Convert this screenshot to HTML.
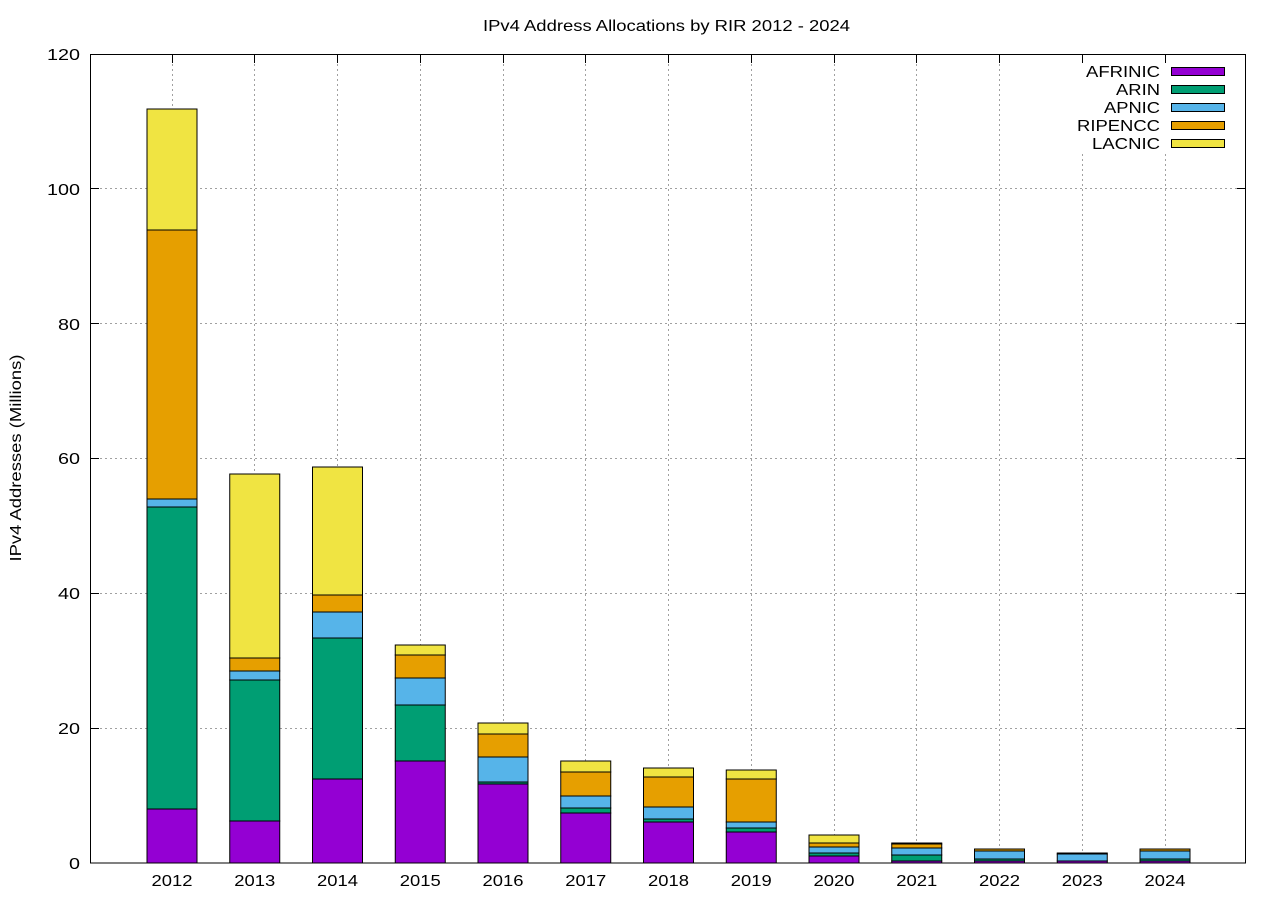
<!DOCTYPE html>
<html><head><meta charset="utf-8"><style>html,body{margin:0;padding:0;background:#fff}svg{display:block}text{font-family:"Liberation Sans",Arial,sans-serif;fill:#000}</style></head>
<body>
<svg width="1280" height="900" viewBox="0 0 1280 900" xmlns="http://www.w3.org/2000/svg">
<rect width="1280" height="900" fill="#fff"/>
<text x="666.5" y="31" font-size="16" text-anchor="middle" textLength="367" lengthAdjust="spacingAndGlyphs">IPv4 Address Allocations by RIR 2012 - 2024</text>
<g stroke="#a0a0a0" stroke-width="1" stroke-dasharray="2,3">
<line x1="90" x2="1246" y1="728.5" y2="728.5"/><line x1="90" x2="1246" y1="593.5" y2="593.5"/><line x1="90" x2="1246" y1="458.5" y2="458.5"/><line x1="90" x2="1246" y1="323.5" y2="323.5"/><line x1="90" x2="1246" y1="188.5" y2="188.5"/>
<line y1="54" y2="863" x1="172.5" x2="172.5"/><line y1="54" y2="863" x1="254.5" x2="254.5"/><line y1="54" y2="863" x1="337.5" x2="337.5"/><line y1="54" y2="863" x1="420.5" x2="420.5"/><line y1="54" y2="863" x1="503.5" x2="503.5"/><line y1="54" y2="863" x1="585.5" x2="585.5"/><line y1="54" y2="863" x1="668.5" x2="668.5"/><line y1="54" y2="863" x1="751.5" x2="751.5"/><line y1="54" y2="863" x1="834.5" x2="834.5"/><line y1="54" y2="863" x1="916.5" x2="916.5"/><line y1="54" y2="863" x1="999.5" x2="999.5"/><line y1="54" y2="863" x1="1082.5" x2="1082.5"/><line y1="54" y2="863" x1="1165.5" x2="1165.5"/>
</g>
<rect x="1060" y="56" width="184" height="98" fill="#fff"/>
<g stroke="#000" stroke-width="1">
<rect x="147" y="809" width="50" height="54" fill="#9400d3"/><rect x="147" y="507" width="50" height="302" fill="#009e73"/><rect x="147" y="499" width="50" height="8" fill="#56b4e9"/><rect x="147" y="230" width="50" height="269" fill="#e69f00"/><rect x="147" y="109" width="50" height="121" fill="#f0e442"/>
<rect x="229.75" y="821" width="50" height="42" fill="#9400d3"/><rect x="229.75" y="680" width="50" height="141" fill="#009e73"/><rect x="229.75" y="671" width="50" height="9" fill="#56b4e9"/><rect x="229.75" y="658" width="50" height="13" fill="#e69f00"/><rect x="229.75" y="474" width="50" height="184" fill="#f0e442"/>
<rect x="312.5" y="779" width="50" height="84" fill="#9400d3"/><rect x="312.5" y="638" width="50" height="141" fill="#009e73"/><rect x="312.5" y="612" width="50" height="26" fill="#56b4e9"/><rect x="312.5" y="595" width="50" height="17" fill="#e69f00"/><rect x="312.5" y="467" width="50" height="128" fill="#f0e442"/>
<rect x="395.25" y="761" width="50" height="102" fill="#9400d3"/><rect x="395.25" y="705" width="50" height="56" fill="#009e73"/><rect x="395.25" y="678" width="50" height="27" fill="#56b4e9"/><rect x="395.25" y="655" width="50" height="23" fill="#e69f00"/><rect x="395.25" y="645" width="50" height="10" fill="#f0e442"/>
<rect x="478" y="784" width="50" height="79" fill="#9400d3"/><rect x="478" y="782" width="50" height="2" fill="#009e73"/><rect x="478" y="757" width="50" height="25" fill="#56b4e9"/><rect x="478" y="734" width="50" height="23" fill="#e69f00"/><rect x="478" y="723" width="50" height="11" fill="#f0e442"/>
<rect x="560.75" y="813" width="50" height="50" fill="#9400d3"/><rect x="560.75" y="808" width="50" height="5" fill="#009e73"/><rect x="560.75" y="796" width="50" height="12" fill="#56b4e9"/><rect x="560.75" y="772" width="50" height="24" fill="#e69f00"/><rect x="560.75" y="761" width="50" height="11" fill="#f0e442"/>
<rect x="643.5" y="822" width="50" height="41" fill="#9400d3"/><rect x="643.5" y="819" width="50" height="3" fill="#009e73"/><rect x="643.5" y="807" width="50" height="12" fill="#56b4e9"/><rect x="643.5" y="777" width="50" height="30" fill="#e69f00"/><rect x="643.5" y="768" width="50" height="9" fill="#f0e442"/>
<rect x="726.25" y="832" width="50" height="31" fill="#9400d3"/><rect x="726.25" y="828" width="50" height="4" fill="#009e73"/><rect x="726.25" y="822" width="50" height="6" fill="#56b4e9"/><rect x="726.25" y="779" width="50" height="43" fill="#e69f00"/><rect x="726.25" y="770" width="50" height="9" fill="#f0e442"/>
<rect x="809" y="856" width="50" height="7" fill="#9400d3"/><rect x="809" y="853" width="50" height="3" fill="#009e73"/><rect x="809" y="847" width="50" height="6" fill="#56b4e9"/><rect x="809" y="843" width="50" height="4" fill="#e69f00"/><rect x="809" y="835" width="50" height="8" fill="#f0e442"/>
<rect x="891.75" y="861" width="50" height="2" fill="#9400d3"/><rect x="891.75" y="855" width="50" height="6" fill="#009e73"/><rect x="891.75" y="848" width="50" height="7" fill="#56b4e9"/><rect x="891.75" y="844" width="50" height="4" fill="#e69f00"/><rect x="891.75" y="843" width="50" height="1" fill="#f0e442"/>
<rect x="974.5" y="861" width="50" height="2" fill="#9400d3"/><rect x="974.5" y="859" width="50" height="2" fill="#009e73"/><rect x="974.5" y="851" width="50" height="8" fill="#56b4e9"/><rect x="974.5" y="849" width="50" height="2" fill="#e69f00"/>
<rect x="1057.25" y="861" width="50" height="2" fill="#9400d3"/><rect x="1057.25" y="854" width="50" height="7" fill="#56b4e9"/><rect x="1057.25" y="853" width="50" height="1" fill="#e69f00"/>
<rect x="1140" y="861" width="50" height="2" fill="#9400d3"/><rect x="1140" y="859" width="50" height="2" fill="#009e73"/><rect x="1140" y="851" width="50" height="8" fill="#56b4e9"/><rect x="1140" y="849" width="50" height="2" fill="#e69f00"/>
</g>
<rect x="90.5" y="54.5" width="1155" height="808.5" fill="none" stroke="#000" stroke-width="1"/>
<g stroke="#000" stroke-width="1">
<line x1="90" x2="99" y1="728.5" y2="728.5"/><line x1="90" x2="99" y1="593.5" y2="593.5"/><line x1="90" x2="99" y1="458.5" y2="458.5"/><line x1="90" x2="99" y1="323.5" y2="323.5"/><line x1="90" x2="99" y1="188.5" y2="188.5"/>
<line x1="1237" x2="1246" y1="728.5" y2="728.5"/><line x1="1237" x2="1246" y1="593.5" y2="593.5"/><line x1="1237" x2="1246" y1="458.5" y2="458.5"/><line x1="1237" x2="1246" y1="323.5" y2="323.5"/><line x1="1237" x2="1246" y1="188.5" y2="188.5"/>
<line y1="54" y2="63" x1="172.5" x2="172.5"/><line y1="54" y2="63" x1="254.5" x2="254.5"/><line y1="54" y2="63" x1="337.5" x2="337.5"/><line y1="54" y2="63" x1="420.5" x2="420.5"/><line y1="54" y2="63" x1="503.5" x2="503.5"/><line y1="54" y2="63" x1="585.5" x2="585.5"/><line y1="54" y2="63" x1="668.5" x2="668.5"/><line y1="54" y2="63" x1="751.5" x2="751.5"/><line y1="54" y2="63" x1="834.5" x2="834.5"/><line y1="54" y2="63" x1="916.5" x2="916.5"/><line y1="54" y2="63" x1="999.5" x2="999.5"/><line y1="54" y2="63" x1="1082.5" x2="1082.5"/><line y1="54" y2="63" x1="1165.5" x2="1165.5"/>
</g>
<g font-size="16" text-anchor="end" lengthAdjust="spacingAndGlyphs">
<text x="80" y="869" textLength="11" lengthAdjust="spacingAndGlyphs">0</text><text x="80" y="734" textLength="22" lengthAdjust="spacingAndGlyphs">20</text><text x="80" y="599" textLength="22" lengthAdjust="spacingAndGlyphs">40</text><text x="80" y="464" textLength="22" lengthAdjust="spacingAndGlyphs">60</text><text x="80" y="330" textLength="22" lengthAdjust="spacingAndGlyphs">80</text><text x="80" y="195" textLength="33" lengthAdjust="spacingAndGlyphs">100</text><text x="80" y="60" textLength="33" lengthAdjust="spacingAndGlyphs">120</text>
</g>
<g font-size="16" text-anchor="middle">
<text x="172" y="886" textLength="41" lengthAdjust="spacingAndGlyphs">2012</text><text x="254.75" y="886" textLength="41" lengthAdjust="spacingAndGlyphs">2013</text><text x="337.5" y="886" textLength="41" lengthAdjust="spacingAndGlyphs">2014</text><text x="420.25" y="886" textLength="41" lengthAdjust="spacingAndGlyphs">2015</text><text x="503" y="886" textLength="41" lengthAdjust="spacingAndGlyphs">2016</text><text x="585.75" y="886" textLength="41" lengthAdjust="spacingAndGlyphs">2017</text><text x="668.5" y="886" textLength="41" lengthAdjust="spacingAndGlyphs">2018</text><text x="751.25" y="886" textLength="41" lengthAdjust="spacingAndGlyphs">2019</text><text x="834" y="886" textLength="41" lengthAdjust="spacingAndGlyphs">2020</text><text x="916.75" y="886" textLength="41" lengthAdjust="spacingAndGlyphs">2021</text><text x="999.5" y="886" textLength="41" lengthAdjust="spacingAndGlyphs">2022</text><text x="1082.25" y="886" textLength="41" lengthAdjust="spacingAndGlyphs">2023</text><text x="1165" y="886" textLength="41" lengthAdjust="spacingAndGlyphs">2024</text>
</g>
<text transform="translate(21,458) rotate(-90)" font-size="16" text-anchor="middle" textLength="207" lengthAdjust="spacingAndGlyphs">IPv4 Addresses (Millions)</text>
<g font-size="16" text-anchor="end">
<text x="1160" y="77" textLength="74" lengthAdjust="spacingAndGlyphs">AFRINIC</text><text x="1160" y="95" textLength="44" lengthAdjust="spacingAndGlyphs">ARIN</text><text x="1160" y="113" textLength="56" lengthAdjust="spacingAndGlyphs">APNIC</text><text x="1160" y="131" textLength="83" lengthAdjust="spacingAndGlyphs">RIPENCC</text><text x="1160" y="149" textLength="68" lengthAdjust="spacingAndGlyphs">LACNIC</text>
</g>
<g stroke="#000" stroke-width="1">
<rect x="1171.5" y="67.5" width="53" height="8" fill="#9400d3"/>
<rect x="1171.5" y="85.5" width="53" height="8" fill="#009e73"/>
<rect x="1171.5" y="103.5" width="53" height="8" fill="#56b4e9"/>
<rect x="1171.5" y="121.5" width="53" height="8" fill="#e69f00"/>
<rect x="1171.5" y="139.5" width="53" height="8" fill="#f0e442"/>
</g>
</svg>
</body></html>
